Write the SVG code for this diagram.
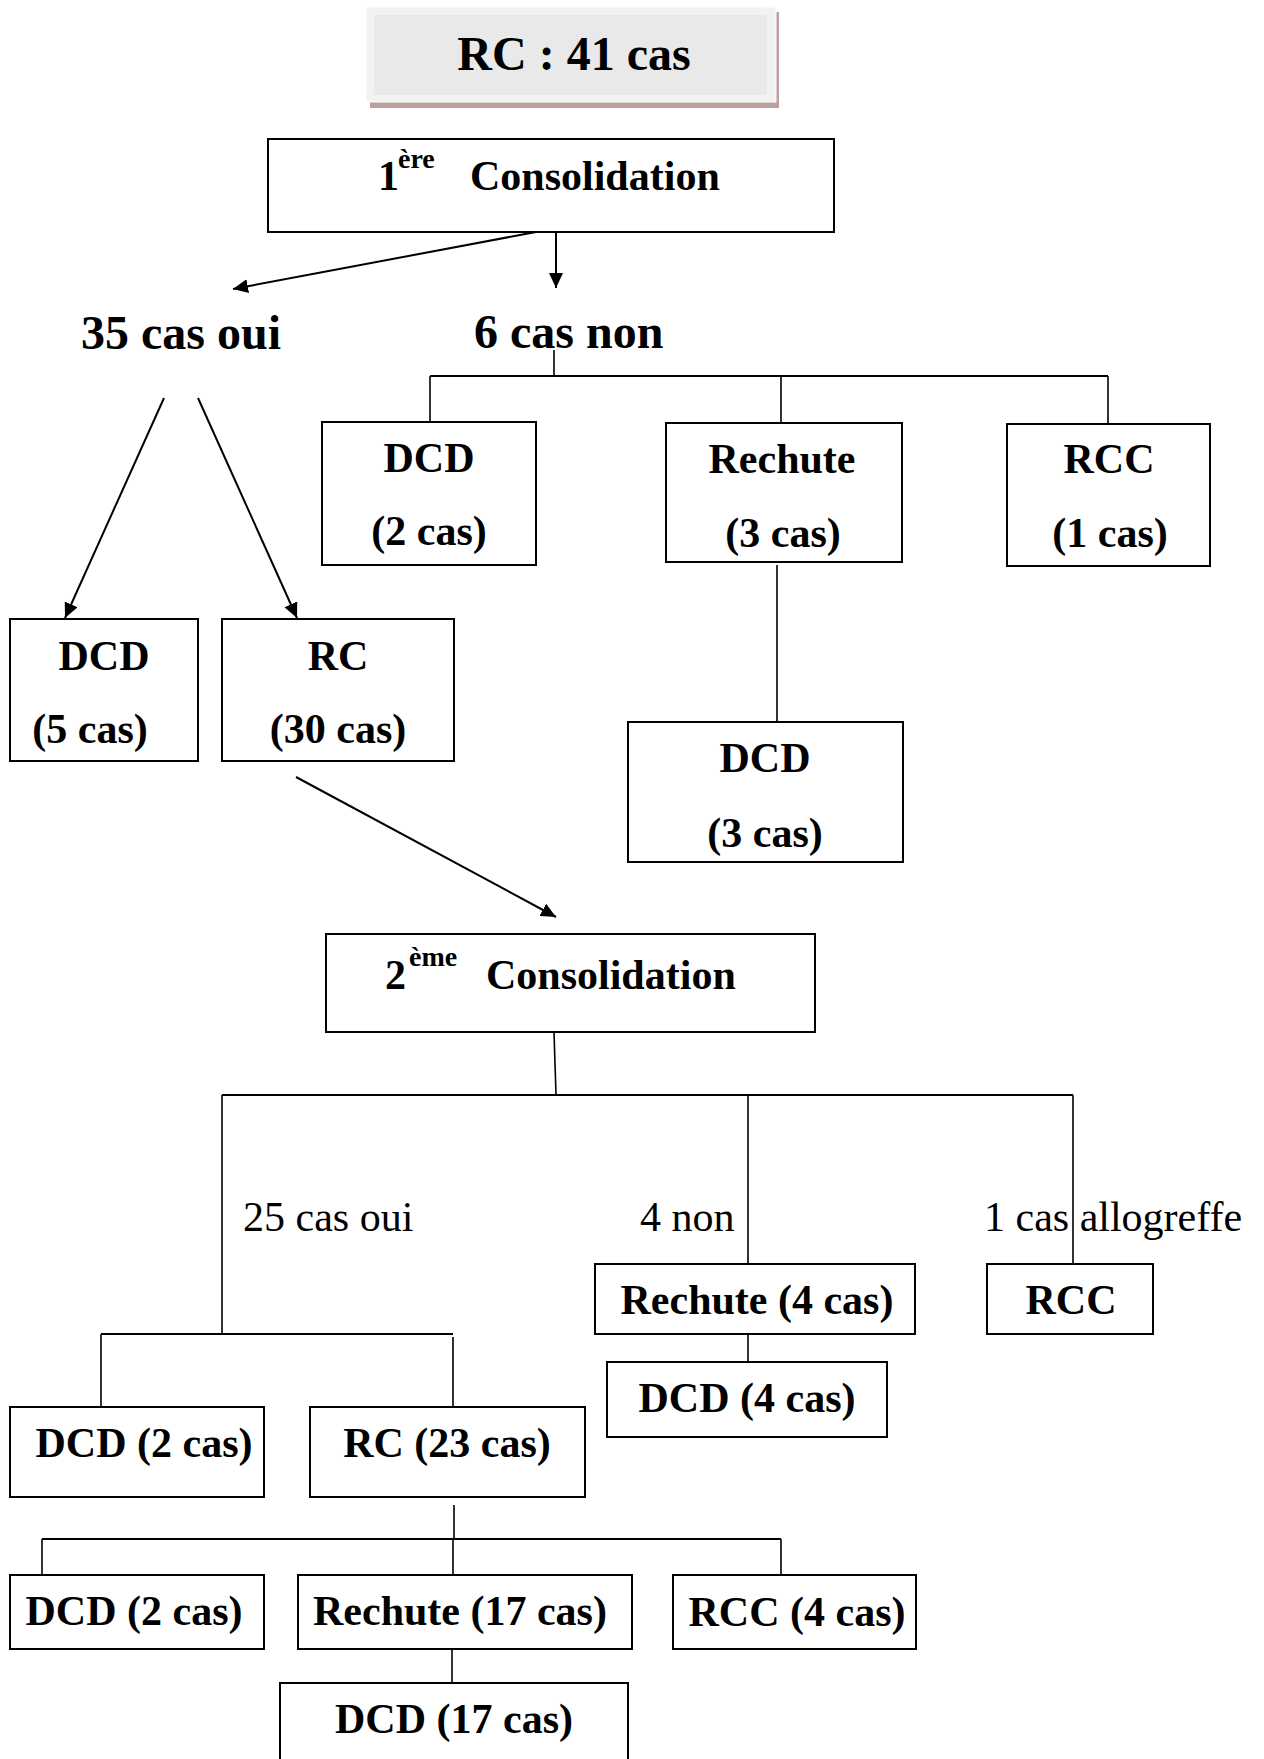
<svg xmlns="http://www.w3.org/2000/svg" width="1264" height="1759" viewBox="0 0 1264 1759">
<style>
.box{fill:#fff;stroke:#000;stroke-width:2}
.t{font-family:"Liberation Serif","Times New Roman",serif;font-weight:bold;font-size:42px;fill:#000}
.big{font-size:48px}
.n{font-family:"Liberation Serif","Times New Roman",serif;font-weight:normal;font-size:42px;fill:#000}
.c{text-anchor:middle}
.ln{stroke:#000;stroke-width:1.6;fill:none}
.hl{stroke:#000;stroke-width:2;fill:none}
.ar{stroke:#000;stroke-width:2;fill:none;marker-end:url(#ah)}
</style>
<defs>
<marker id="ah" markerUnits="userSpaceOnUse" markerWidth="16" markerHeight="16" refX="15" refY="7" orient="auto">
<path d="M0,0 L15,7 L0,14 z" fill="#000"/>
</marker>
</defs>
<rect width="1264" height="1759" fill="#fff"/>

<g id="connectors">
<line class="ar" x1="536" y1="232" x2="233" y2="289"/>
<line class="ar" x1="556" y1="232" x2="556" y2="288"/>
<line class="ln" x1="554" y1="350" x2="554" y2="376"/>
<line class="hl" x1="430" y1="376" x2="1108" y2="376"/>
<line class="ln" x1="430" y1="376" x2="430" y2="422"/>
<line class="ln" x1="781" y1="376" x2="781" y2="423"/>
<line class="ln" x1="1108" y1="376" x2="1108" y2="424"/>
<line class="ar" x1="164" y1="398" x2="65" y2="618"/>
<line class="ar" x1="198" y1="398" x2="297" y2="618"/>
<line class="ln" x1="777" y1="565" x2="777" y2="722"/>
<line class="ar" x1="296" y1="777" x2="556" y2="917"/>
<line class="ln" x1="554" y1="1032" x2="556" y2="1095"/>
<line class="hl" x1="222" y1="1095" x2="1073" y2="1095"/>
<line class="ln" x1="222" y1="1095" x2="222" y2="1334"/>
<line class="ln" x1="748" y1="1095" x2="748" y2="1264"/>
<line class="ln" x1="1073" y1="1095" x2="1073" y2="1264"/>
<line class="hl" x1="101" y1="1334" x2="453" y2="1334"/>
<line class="ln" x1="101" y1="1334" x2="101" y2="1407"/>
<line class="ln" x1="453" y1="1337" x2="453" y2="1407"/>
<line class="ln" x1="748" y1="1334" x2="748" y2="1362"/>
<line class="ln" x1="454" y1="1505" x2="454" y2="1539"/>
<line class="hl" x1="42" y1="1539" x2="781" y2="1539"/>
<line class="ln" x1="42" y1="1539" x2="42" y2="1575"/>
<line class="ln" x1="453" y1="1539" x2="453" y2="1575"/>
<line class="ln" x1="781" y1="1539" x2="781" y2="1575"/>
<line class="ln" x1="452" y1="1649" x2="452" y2="1683"/>
</g>

<g id="n-rc41">
<rect x="370" y="12" width="409" height="96" fill="#bc9f9f"/>
<rect x="366" y="7" width="410" height="95" fill="#f2f2f2" stroke="#fff" stroke-width="1"/>
<rect x="374" y="15" width="393" height="80" fill="#e9e9e9"/>
<text class="t big c" x="574" y="70">RC : 41 cas</text>
</g>

<g id="n-cons1">
<rect class="box" x="268" y="139" width="566" height="93"/>
<text class="t"><tspan x="378" y="190">1</tspan><tspan x="398" y="168" font-size="28">ère</tspan><tspan x="470" y="190">Consolidation</tspan></text>
</g>

<g id="n-oui35"><text class="t big" x="81" y="349">35 cas oui</text></g>
<g id="n-non6"><text class="t big" x="474" y="348">6 cas non</text></g>

<g id="n-dcd2a">
<rect class="box" x="322" y="422" width="214" height="143"/>
<text class="t c" x="429" y="472">DCD</text>
<text class="t c" x="429" y="545">(2 cas)</text>
</g>
<g id="n-rechute3">
<rect class="box" x="666" y="423" width="236" height="139"/>
<text class="t c" x="782" y="473">Rechute</text>
<text class="t c" x="783" y="547">(3 cas)</text>
</g>
<g id="n-rcc1">
<rect class="box" x="1007" y="424" width="203" height="142"/>
<text class="t c" x="1109" y="473">RCC</text>
<text class="t c" x="1110" y="547">(1 cas)</text>
</g>
<g id="n-dcd5">
<rect class="box" x="10" y="619" width="188" height="142"/>
<text class="t c" x="104" y="670">DCD</text>
<text class="t c" x="90" y="743">(5 cas)</text>
</g>
<g id="n-rc30">
<rect class="box" x="222" y="619" width="232" height="142"/>
<text class="t c" x="338" y="670">RC</text>
<text class="t c" x="338" y="743">(30 cas)</text>
</g>
<g id="n-dcd3">
<rect class="box" x="628" y="722" width="275" height="140"/>
<text class="t c" x="765" y="772">DCD</text>
<text class="t c" x="765" y="847">(3 cas)</text>
</g>

<g id="n-cons2">
<rect class="box" x="326" y="934" width="489" height="98"/>
<text class="t"><tspan x="385" y="989">2</tspan><tspan x="409" y="966" font-size="28">ème</tspan><tspan x="486" y="989">Consolidation</tspan></text>
</g>

<g id="l-oui25"><text class="n" x="243" y="1231">25 cas oui</text></g>
<g id="l-non4"><text class="n" x="640" y="1231">4 non</text></g>
<g id="l-allo"><text class="n" x="984" y="1231">1 cas allogreffe</text></g>

<g id="n-rechute4">
<rect class="box" x="595" y="1264" width="320" height="70"/>
<text class="t c" x="757" y="1314">Rechute (4 cas)</text>
</g>
<g id="n-rcc">
<rect class="box" x="987" y="1264" width="166" height="70"/>
<text class="t c" x="1071" y="1314">RCC</text>
</g>
<g id="n-dcd4">
<rect class="box" x="607" y="1362" width="280" height="75"/>
<text class="t c" x="747" y="1412">DCD (4 cas)</text>
</g>
<g id="n-dcd2b">
<rect class="box" x="10" y="1407" width="254" height="90"/>
<text class="t c" x="144" y="1457">DCD (2 cas)</text>
</g>
<g id="n-rc23">
<rect class="box" x="310" y="1407" width="275" height="90"/>
<text class="t c" x="447" y="1457">RC (23 cas)</text>
</g>
<g id="n-dcd2c">
<rect class="box" x="10" y="1575" width="254" height="74"/>
<text class="t c" x="134" y="1625">DCD (2 cas)</text>
</g>
<g id="n-rechute17">
<rect class="box" x="298" y="1575" width="334" height="74"/>
<text class="t c" x="460" y="1625">Rechute (17 cas)</text>
</g>
<g id="n-rcc4">
<rect class="box" x="673" y="1575" width="243" height="74"/>
<text class="t c" x="797" y="1626">RCC (4 cas)</text>
</g>
<g id="n-dcd17">
<rect class="box" x="280" y="1683" width="348" height="100"/>
<text class="t c" x="454" y="1733">DCD (17 cas)</text>
</g>
</svg>
